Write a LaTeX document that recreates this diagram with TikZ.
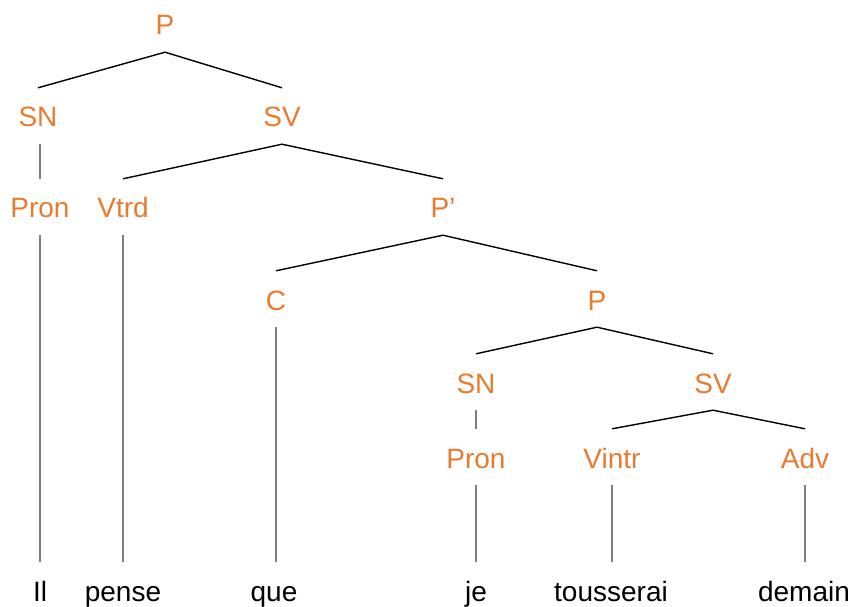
\documentclass[tikz,border=0pt]{standalone}
\usepackage{fontspec}
\setmainfont{Liberation Sans}
\usetikzlibrary{positioning}
\definecolor{Tree_Orange}{HTML}{E97B2E}
\definecolor{Tree_Gray}{HTML}{7F7F7F}

\begin{document}
\begin{tikzpicture}[x=1pt, y=-1pt,
  cat/.style={anchor=base, inner sep=0pt, text height=39pt, text depth=17pt, text=Tree_Orange, font=\fontsize{28}{34}\selectfont},
  word/.style={cat, text=black},
  branch/.style={draw=black, line width=1.4pt},
  stem/.style={draw=Tree_Gray, line width=2.4pt},
]
\useasboundingbox (0,0) rectangle (855,607);

% --- categories ---
\node[cat] (P)     at (165, 35)  {P};
\node[cat] (SN)    at (38, 127)  {SN};
\node[cat] (SV)    at (282, 127) {SV};
\node[cat] (Pron)  at (40, 218)  {Pron};
\node[cat] (Vtrd)  at (123, 218) {Vtrd};
\node[cat] (Pp)    at (443, 218) {P’};
\node[cat] (C)     at (276, 310) {C};
\node[cat] (P2)    at (597, 310) {P};
\node[cat] (SN2)   at (476, 393) {SN};
\node[cat] (SV2)   at (713, 393) {SV};
\node[cat] (Pron2) at (476, 468) {Pron};
\node[cat] (Vintr) at (612, 468) {Vintr};
\node[cat] (Adv)   at (805, 468) {Adv};

% --- words ---
\node[word] (Il)        at (40, 601)  {Il};
\node[word] (pense)     at (123, 601) {pense};
\node[word] (que)       at (274, 601) {que};
\node[word] (je)        at (476, 601) {je};
\node[word] (tousserai) at (611, 601) {tousserai};
\node[word] (demain)    at (804, 601) {demain};

% --- branches ---
\draw[branch] (SN.north) -- (P.south) -- (SV.north);
\draw[branch] (Vtrd.north) -- (SV.south) -- (Pp.north);
\draw[branch] (C.north) -- (Pp.south) -- (P2.north);
\draw[branch] (SN2.north) -- (P2.south) -- (SV2.north);
\draw[branch] (Vintr.north) -- (SV2.south) -- (Adv.north);

% --- stems ---
\draw[stem] (Pron.north |- SN.south) -- (Pron.north);
\draw[stem] (Pron2.north |- SN2.south) -- (Pron2.north);
\foreach \from/\to in {Pron/Il, Vtrd/pense, C/que, Pron2/je, Vintr/tousserai, Adv/demain}
{
  \draw[stem] (\from.south) -- (\from.south |- \to.north);
}

\end{tikzpicture}
\end{document}
